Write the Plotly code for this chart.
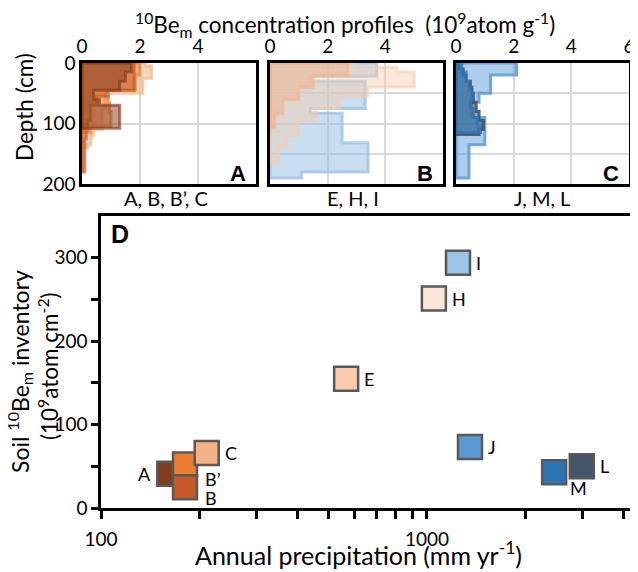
import math
import plotly.graph_objects as go

# page has an 8px body margin: figure occupies the window from (8,8)
OFF = 8
FW, FH = 630, 564
FONT = "Lato"

# ---------------- Scatter data (panel D) ----------------
sites = ["A", "B’", "B", "C", "E", "H", "I", "J", "M", "L"]
precip = [162, 181, 181, 211, 565, 1050, 1245, 1355, 2455, 2985]
inventory = [41, 52, 25, 66, 155, 251, 294, 73, 43, 50]
site_colors = ["#843c1e", "#ed7d31", "#c55a28", "#f4b183", "#f8cbad",
               "#fbe5d6", "#9dc3e6", "#5b9bd5", "#2e75b6", "#44546a"]

# ---------------- Profile data (panels A-C) ----------------
# depth interval boundaries (cm) and concentration (1e9 atom/g)
depth_A = [0, 15, 30, 45, 60, 70, 108]
conc_A = [1.7, 1.5, 1.3, 0.4, 0.6, 1.3]
depth_B = [0, 45, 55, 70, 95, 110, 125, 180]
conc_B = [1.8, 0.9, 0.5, 0.3, 0.2, 0.15, 0.1]
depth_Bp = [0, 20, 45, 55, 65, 80, 105, 115]
conc_Bp = [2.0, 1.85, 0.8, 0.9, 0.95, 1.0, 0.3]
depth_C = [0, 5, 25, 50, 60, 75, 110, 120, 135, 140]
conc_C = [2.2, 2.4, 2.1, 0.9, 0.8, 0.7, 0.4, 0.3, 0.2]

depth_E = [0, 20, 40, 60, 83, 107]
conc_E = [2.7, 1.5, 1.0, 0.45, 0.17]
depth_H = [0, 7, 15, 40, 55, 75, 95, 120, 140, 167]
conc_H = [3.0, 4.4, 5.0, 3.4, 2.4, 1.6, 1.0, 0.6, 0.3]
depth_I = [0, 22, 30, 75, 83, 132, 180, 190]
conc_I = [3.7, 1.4, 3.3, 1.4, 2.5, 3.4, 1.1]

depth_J = [0, 20, 50, 65, 90, 135, 190]
conc_J = [2.1, 1.2, 0.8, 0.55, 1.0, 0.45]
depth_L = [0, 10, 20, 30, 40, 50, 65, 80, 95, 110, 118]
conc_L = [0.1, 0.25, 0.35, 0.5, 0.55, 0.6, 0.7, 0.8, 0.95, 0.8]
depth_M = [0, 15, 30, 45, 60, 75, 90, 105, 115]
conc_M = [0.2, 0.35, 0.45, 0.55, 0.5, 0.6, 0.75, 0.85]

conc_ticks = [0, 2, 4]
conc_ticks_C = [0, 2, 4, 6]
depth_ticks = [0, 100, 200]
inv_ticks = [0, 100, 200, 300]
inv_minor = [50, 150, 250]
precip_ticks = [100, 1000]
precip_minor = [200, 300, 400, 500, 600, 700, 800, 900, 2000, 3000, 4000]


def rgba(hexc, a):
    h = hexc.lstrip("#")
    r, g, b = int(h[0:2], 16), int(h[2:4], 16), int(h[4:6], 16)
    return f"rgba({r},{g},{b},{a})"


def step_xy(depths, conc):
    xs, ys = [0], [depths[0]]
    for i, c in enumerate(conc):
        xs += [c, c]
        ys += [depths[i], depths[i + 1]]
    xs.append(0)
    ys.append(depths[-1])
    xs.append(0)
    ys.append(depths[0])
    return xs, ys


fig = go.Figure()


def add_profile(depths, conc, color, xa, ya, fa=0.5, la=0.65):
    xs, ys = step_xy(depths, conc)
    fig.add_trace(go.Scatter(x=xs, y=ys, mode="lines", fill="toself",
                             fillcolor=rgba(color, fa),
                             line=dict(color=rgba(color, la), width=3),
                             xaxis=xa, yaxis=ya, showlegend=False,
                             hoverinfo="skip"))


# panel A
add_profile(depth_C, conc_C, "#f4b183", "x", "y")
add_profile(depth_Bp, conc_Bp, "#ed7d31", "x", "y")
add_profile(depth_B, conc_B, "#c55a28", "x", "y")
add_profile(depth_A, conc_A, "#843c1e", "x", "y")
# panel B
add_profile(depth_I, conc_I, "#9dc3e6", "x2", "y2", 0.55, 0.8)
add_profile(depth_H, conc_H, "#f8cbad", "x2", "y2", 0.45, 0.6)
add_profile(depth_E, conc_E, "#f4b183", "x2", "y2", 0.45, 0.6)
# panel C
add_profile(depth_J, conc_J, "#5b9bd5", "x3", "y3", 0.5, 0.85)
add_profile(depth_L, conc_L, "#44546a", "x3", "y3", 0.55, 0.9)
add_profile(depth_M, conc_M, "#2e75b6", "x3", "y3", 0.5, 0.8)

# panel D scatter
fig.add_trace(go.Scatter(
    x=precip, y=inventory, mode="markers", xaxis="x4", yaxis="y4",
    marker=dict(symbol="square", size=24, color=site_colors,
                line=dict(color="#595959", width=2.5)),
    showlegend=False, hoverinfo="skip"))

# labels next to markers
label_pos = {"A": (-16, 0, "right"), "B": (18, -11, "left"), "B’": (18, -14, "left"),
             "M": (14, -16, "left")}
annos = []
for s, xv, yv in zip(sites, precip, inventory):
    dx, dy, anc = label_pos.get(s, (16, 0, "left"))
    annos.append(dict(x=math.log10(xv), y=yv, xref="x4", yref="y4",
                      text=s, showarrow=False, xshift=dx, yshift=dy,
                      xanchor=anc, yanchor="middle",
                      font=dict(size=18, color="black", family=FONT)))


def px2x(p):
    return (p - OFF) / FW


def px2y(p):
    return 1 - (p - OFF) / FH


top_y = [px2y(184), px2y(63)]
axis_common = dict(showline=True, linecolor="black", linewidth=2.5, mirror=True,
                   zeroline=False, ticks="", automargin=False)
grid = dict(showgrid=True, gridcolor="#d9d9d9", gridwidth=1.5)
tickf = dict(size=19, family=FONT, color="black")

fig.update_layout(
    width=FW, height=FH, margin=dict(l=0, r=0, t=0, b=0, autoexpand=False),
    paper_bgcolor="white", plot_bgcolor="white",
    font=dict(family=FONT, color="black"),
    xaxis=dict(domain=[px2x(82), px2x(256)], range=[0, 6], side="top", anchor="y",
               tickvals=conc_ticks, tickfont=tickf, **axis_common, **grid),
    yaxis=dict(domain=top_y, range=[200, 0], anchor="x",
               tickvals=depth_ticks, tickfont=tickf, **axis_common, **grid),
    xaxis2=dict(domain=[px2x(270), px2x(443)], range=[0, 6], side="top", anchor="y2",
                tickvals=conc_ticks, tickfont=tickf, **axis_common, **grid),
    yaxis2=dict(domain=top_y, range=[200, 0], anchor="x2", tickvals=[50, 100, 150],
                showticklabels=False, **axis_common, **grid),
    xaxis3=dict(domain=[px2x(456), px2x(629)], range=[0, 6], side="top", anchor="y3",
                tickvals=conc_ticks_C, tickfont=tickf, **axis_common, **grid),
    yaxis3=dict(domain=top_y, range=[200, 0], anchor="x3", tickvals=[50, 100, 150],
                showticklabels=False, **axis_common, **grid),
    xaxis4=dict(domain=[px2x(101), px2x(633)], type="log", range=[2, 3.632],
                anchor="y4", tickvals=precip_ticks, ticktext=["100", "1000"],
                ticks="outside", ticklen=8, tickwidth=2.5, tickcolor="black",
                ticklabelstandoff=4,
                tickfont=tickf, showline=True, linecolor="black", linewidth=2.5,
                mirror=True, showgrid=False, zeroline=False, automargin=False,
                minor=dict(tickvals=precip_minor, ticks="outside", ticklen=8,
                           tickwidth=2.5, tickcolor="black", showgrid=False)),
    yaxis4=dict(domain=[px2y(508), px2y(216)], range=[0, 350], anchor="x4",
                tickvals=inv_ticks, ticks="outside", ticklen=7, tickwidth=2.5,
                tickcolor="black", tickfont=tickf, showline=True, linecolor="black",
                linewidth=2.5, mirror=True, showgrid=False, zeroline=False,
                automargin=False,
                minor=dict(tickvals=inv_minor, ticks="outside", ticklen=7,
                           tickwidth=2.5, tickcolor="black", showgrid=False)),
)


def pa(x, y, text, size, family=FONT, xanchor="center", angle=0):
    return dict(x=px2x(x), y=px2y(y), xref="paper", yref="paper", text=text,
                showarrow=False, xanchor=xanchor, yanchor="middle", textangle=angle,
                font=dict(size=size, family=family, color="black"))


annos += [
    pa(345, 24, "<sup>10</sup>Be<sub>m</sub> concentration profiles  (10<sup>9</sup>atom g<sup>-1</sup>)", 22.5),
    pa(25, 107, "Depth (cm)", 22.5, angle=-90),
    pa(166, 198, "A, B, B’, C", 20),
    pa(353, 198, "E, H, I", 20),
    pa(542, 198, "J, M, L", 20),
    pa(358, 553, "Annual precipitation (mm yr<sup>-1</sup>)", 25),
    pa(19, 372, "Soil <sup>10</sup>Be<sub>m</sub> inventory", 23, angle=-90),
    pa(48, 366, "(10<sup>9</sup>atom cm<sup>-2</sup>)", 22.5, angle=-90),
    pa(248, 173, "<b>A</b>", 22, "Liberation Sans", "right"),
    pa(435, 173, "<b>B</b>", 22, "Liberation Sans", "right"),
    pa(621, 173, "<b>C</b>", 22, "Liberation Sans", "right"),
    pa(109, 234, "<b>D</b>", 25, "Liberation Sans", "left"),
]
fig.update_layout(annotations=annos)

fig.write_html("out.html")
